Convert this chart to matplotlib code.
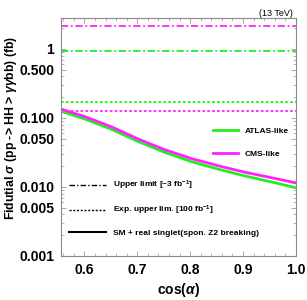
import numpy as np
import matplotlib
matplotlib.use('Agg')
import matplotlib.pyplot as plt
from matplotlib.lines import Line2D
from matplotlib.ticker import FixedLocator, NullFormatter

plt.rcParams['font.family'] = ['Liberation Sans', 'DejaVu Sans']
plt.rcParams['mathtext.fontset'] = 'custom'
plt.rcParams['mathtext.it'] = 'Liberation Sans:italic:bold'
plt.rcParams['mathtext.rm'] = 'Liberation Sans:bold'

# data
cos_a = [0.555, 0.6, 0.65, 0.7, 0.75, 0.8, 0.85, 0.9, 0.95, 1.0]
cms_sm = [0.135, 0.105, 0.075, 0.050, 0.035, 0.026, 0.0205, 0.0165, 0.0138, 0.0114]
atlas_sm = [0.125, 0.097, 0.069, 0.046, 0.032, 0.0235, 0.0183, 0.0146, 0.0120, 0.0097]
atlas_upper = 0.92
cms_upper = 2.15
atlas_exp = 0.17
cms_exp = 0.125

green = '#22ee22'
magenta = '#ff22ff'

fig = plt.figure(figsize=(3.07, 3.00), dpi=100)
ax = fig.add_axes([0.199, 0.147, 0.765, 0.793])

dashdot = (0, (4, 1.5, 1, 1.5))
dotted = (0, (1.5, 1.2))
ax.axhline(cms_upper, color=magenta, lw=1.3, ls=dashdot)
ax.axhline(atlas_upper, color=green, lw=1.3, ls=dashdot)
ax.axhline(atlas_exp, color=green, lw=1.3, ls=dotted)
ax.axhline(cms_exp, color=magenta, lw=1.3, ls=dotted)

xs = np.linspace(cos_a[0], cos_a[-1], 200)
ax.plot(xs, np.exp(np.interp(xs, cos_a, np.log(atlas_sm))), color=green, lw=2)
ax.plot(xs, np.exp(np.interp(xs, cos_a, np.log(cms_sm))), color=magenta, lw=2)

ax.set_yscale('log')
ax.set_xlim(0.556, 1.0)
ax.set_ylim(0.001, 2.8)

yt = [0.001, 0.005, 0.010, 0.050, 0.100, 0.500, 1]
ax.set_yticks(yt)
ax.set_yticklabels(['0.001', '0.005', '0.010', '0.050', '0.100', '0.500', '1'])
ax.yaxis.set_minor_locator(FixedLocator([k * 10.0**e for e in range(-3, 1) for k in range(2, 10)]))
ax.yaxis.set_minor_formatter(NullFormatter())
ax.set_xticks([0.6, 0.7, 0.8, 0.9, 1.0])
ax.set_xticklabels(['0.6', '0.7', '0.8', '0.9', '1.0'])
ax.set_xticks(np.arange(0.56, 1.0, 0.02), minor=True)

ax.tick_params(which='both', direction='in', top=True, right=True, color='#999999')
ax.tick_params(which='major', length=3.5, width=0.6, labelsize=10, pad=5)
ax.tick_params(which='minor', length=2, width=0.5)
for lab in ax.get_xticklabels() + ax.get_yticklabels():
    lab.set_fontweight('bold')
for s in ax.spines.values():
    s.set_color('#888888')
    s.set_linewidth(0.8)

ax.set_xlabel(r'cos($\alpha$)', fontsize=10, fontweight='bold', labelpad=3)
ax.set_ylabel(r'Fidutial $\sigma$ (pp -> HH > $\gamma\gamma$bb) (fb)', fontsize=8.8,
              fontweight='bold', va='center')
ax.yaxis.set_label_coords(-0.215, 0.54)
fig.text(0.955, 0.955, '(13 TeV)', fontsize=6.5, ha='right', va='center')

h1 = [Line2D([], [], color=green, lw=2), Line2D([], [], color=magenta, lw=2)]
leg1 = ax.legend(h1, ['ATLAS-like', 'CMS-like'], loc='center right', frameon=False,
                 bbox_to_anchor=(1.0, 0.475), prop={'size': 6, 'weight': 'bold'},
                 handlelength=3, labelspacing=1.8)
ax.add_artist(leg1)
h2 = [Line2D([], [], color='black', lw=1, ls=dashdot),
      Line2D([], [], color='black', lw=1, ls=dotted),
      Line2D([], [], color='black', lw=1.5)]
ax.legend(h2, ['Upper limit [~3 fb$^{-1}$]', 'Exp. upper lim. [100 fb$^{-1}$]',
               'SM + real singlet(spon. Z2 breaking)'], loc='lower left', frameon=False,
          bbox_to_anchor=(0.0, 0.05), prop={'size': 6, 'weight': 'bold'},
          handlelength=4.5, labelspacing=1.4)

fig.savefig('out.png', dpi=100)
